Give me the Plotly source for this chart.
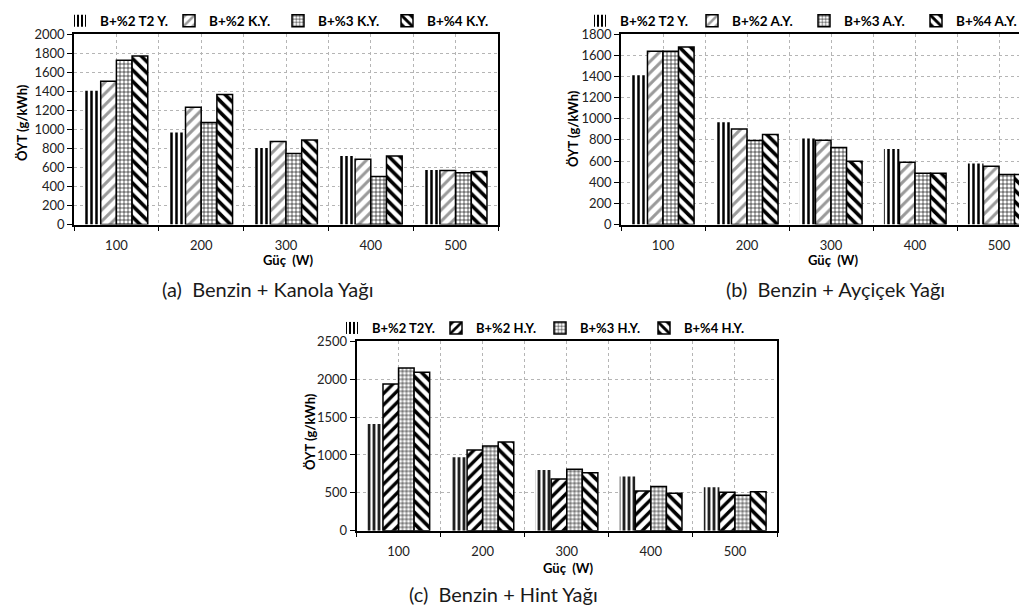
import plotly.graph_objects as go

W, H = 1027, 612

power = [100, 200, 300, 400, 500]

# Panel (a) Benzin + Kanola Yağı
a_names = ["B+%2 T2 Y.", "B+%2 K.Y.", "B+%3 K.Y.", "B+%4 K.Y."]
a_t2 = [1405, 965, 804, 720, 573]
a_2 = [1503, 1231, 871, 685, 566]
a_3 = [1724, 1070, 745, 503, 542]
a_4 = [1769, 1364, 888, 720, 556]

# Panel (b) Benzin + Ayçiçek Yağı
b_names = ["B+%2 T2 Y.", "B+%2 A.Y.", "B+%3 A.Y.", "B+%4 A.Y."]
b_t2 = [1410, 966, 812, 714, 576]
b_2 = [1636, 903, 796, 588, 551]
b_3 = [1636, 793, 727, 485, 472]
b_4 = [1677, 850, 598, 485, 472]

# Panel (c) Benzin + Hint Yağı
c_names = ["B+%2 T2Y.", "B+%2 H.Y.", "B+%3 H.Y.", "B+%4 H.Y."]
c_t2 = [1408, 968, 801, 717, 572]
c_2 = [1937, 1065, 682, 524, 506]
c_3 = [2148, 1118, 810, 585, 467]
c_4 = [2091, 1171, 766, 493, 515]

captions = ["(a)  Benzin + Kanola Yağı", "(b)  Benzin + Ayçiçek Yağı", "(c)  Benzin + Hint Yağı"]
y_title = "ÖYT (g/kWh)"
x_title = "Güç  (W)"

FONT = "Lato"
OUT = "#000000"


def mk(kind):
    if kind == "t2":
        return dict(color="white", line=dict(width=0),
                    pattern=dict(shape="|", fgcolor="black", bgcolor="white",
                                 size=5, solidity=0.5, fillmode="replace"))
    if kind == "gray":
        return dict(color="white", line=dict(width=1.5, color=OUT),
                    pattern=dict(shape="/", fgcolor="#9a9a9a", bgcolor="white",
                                 size=8, solidity=0.38, fillmode="replace"))
    if kind == "black/":
        return dict(color="white", line=dict(width=1.5, color=OUT),
                    pattern=dict(shape="/", fgcolor="black", bgcolor="white",
                                 size=8, solidity=0.42, fillmode="replace"))
    if kind == "grid":
        return dict(color="white", line=dict(width=1.5, color=OUT),
                    pattern=dict(shape="+", fgcolor="black", bgcolor="white",
                                 size=4, solidity=0.28, fillmode="replace"))
    if kind == "back":
        return dict(color="white", line=dict(width=1.5, color=OUT),
                    pattern=dict(shape="\\", fgcolor="black", bgcolor="white",
                                 size=8, solidity=0.45, fillmode="replace"))


fig = go.Figure()

panels = [
    ("x", "y", "legend", a_names, [a_t2, a_2, a_3, a_4], ["t2", "gray", "grid", "back"]),
    ("x2", "y2", "legend2", b_names, [b_t2, b_2, b_3, b_4], ["t2", "gray", "grid", "back"]),
    ("x3", "y3", "legend3", c_names, [c_t2, c_2, c_3, c_4], ["t2", "black/", "grid", "back"]),
]

for xa, ya, lg, names, series, kinds in panels:
    for nm, vals, kd in zip(names, series, kinds):
        fig.add_trace(go.Bar(x=power, y=vals, name=nm, xaxis=xa, yaxis=ya,
                             legend=lg, marker=mk(kd), hoverinfo="skip"))


def px_x(p):
    return p / W


def px_y(p):
    return 1 - p / H


grid = dict(showgrid=True, gridcolor="#b5b5b5", griddash="dot", gridwidth=1)
tickfont = dict(family=FONT, size=13, color="#222222")


def xaxis(dom, rng, anchor, mirror=True):
    return dict(domain=dom, anchor=anchor, range=rng, type="linear",
                tick0=100, dtick=100, ticks="", tickfont=tickfont,
                ticklabelstandoff=8, zeroline=False, automargin=False,
                showline=True, linecolor="black", linewidth=1.5, mirror=mirror,
                minor=dict(tick0=50, dtick=100, ticks="outside", ticklen=5,
                           tickcolor="black", tickwidth=1, **grid),
                **grid)


def yaxis(dom, rng, dtick, anchor, mirror=True):
    return dict(domain=dom, anchor=anchor, range=rng, dtick=dtick,
                ticks="outside", ticklen=5, tickcolor="black", tickfont=tickfont,
                zeroline=False, showline=True, linecolor="black", linewidth=1.5,
                mirror=mirror, automargin=False, **grid)


a_dom_x = [px_x(66), px_x(490)]
b_dom_x = [px_x(613), 1.0]
c_dom_x = [px_x(348.5), px_x(769)]
ab_dom_y = [px_y(216.5), px_y(26)]
c_dom_y = [px_y(522.7), px_y(333.3)]

b_span = (W - 613) / 0.84


def legend_common(size):
    return dict(orientation="h", xanchor="left", yanchor="middle",
                font=dict(family=FONT, size=size, color="black", weight="bold"),
                bgcolor="rgba(0,0,0,0)", itemwidth=30,
                entrywidthmode="pixels", traceorder="normal")


ann = []
title_font = dict(family=FONT, size=13, color="black", weight="bold")
for xc, yc in [(14, 115), (565, 121), (302, 424)]:
    ann.append(dict(text=y_title, x=px_x(xc), y=px_y(yc), xref="paper", yref="paper",
                    textangle=-90, showarrow=False, font=title_font,
                    xanchor="center", yanchor="middle"))
for xc, yc in [(280, 252), (825, 252), (560, 560)]:
    ann.append(dict(text=x_title, x=px_x(xc), y=px_y(yc), xref="paper", yref="paper",
                    showarrow=False, font=title_font, xanchor="center", yanchor="middle"))
cap_font = dict(family=FONT, size=20, color="#1a1a1a")
for txt, (xc, yc) in zip(captions, [(260, 281), (827, 281), (495, 586)]):
    ann.append(dict(text=txt, x=px_x(xc), y=px_y(yc), xref="paper", yref="paper",
                    showarrow=False, font=cap_font, xanchor="center", yanchor="middle"))

fig.update_layout(
    width=W, height=H,
    margin=dict(l=0, r=0, t=0, b=0, autoexpand=False),
    paper_bgcolor="white", plot_bgcolor="white",
    barmode="group", bargap=0.26, bargroupgap=0,
    xaxis=xaxis(a_dom_x, [50, 550], "y"),
    yaxis=yaxis(ab_dom_y, [0, 2000], 200, "x"),
    xaxis2=xaxis(b_dom_x, [50, 50 + b_span], "y2"),
    yaxis2=yaxis(ab_dom_y, [0, 1800], 200, "x2", mirror=False),
    xaxis3=xaxis(c_dom_x, [50, 550], "y3"),
    yaxis3=yaxis(c_dom_y, [0, 2500], 500, "x3"),
    legend=dict(x=px_x(52), y=px_y(13), entrywidth=64, **legend_common(13.5)),
    legend2=dict(x=px_x(572), y=px_y(13), entrywidth=67, **legend_common(13.5)),
    legend3=dict(x=px_x(324), y=px_y(320), entrywidth=59, **legend_common(13)),
    annotations=ann,
)

fig.write_html("out.html")
